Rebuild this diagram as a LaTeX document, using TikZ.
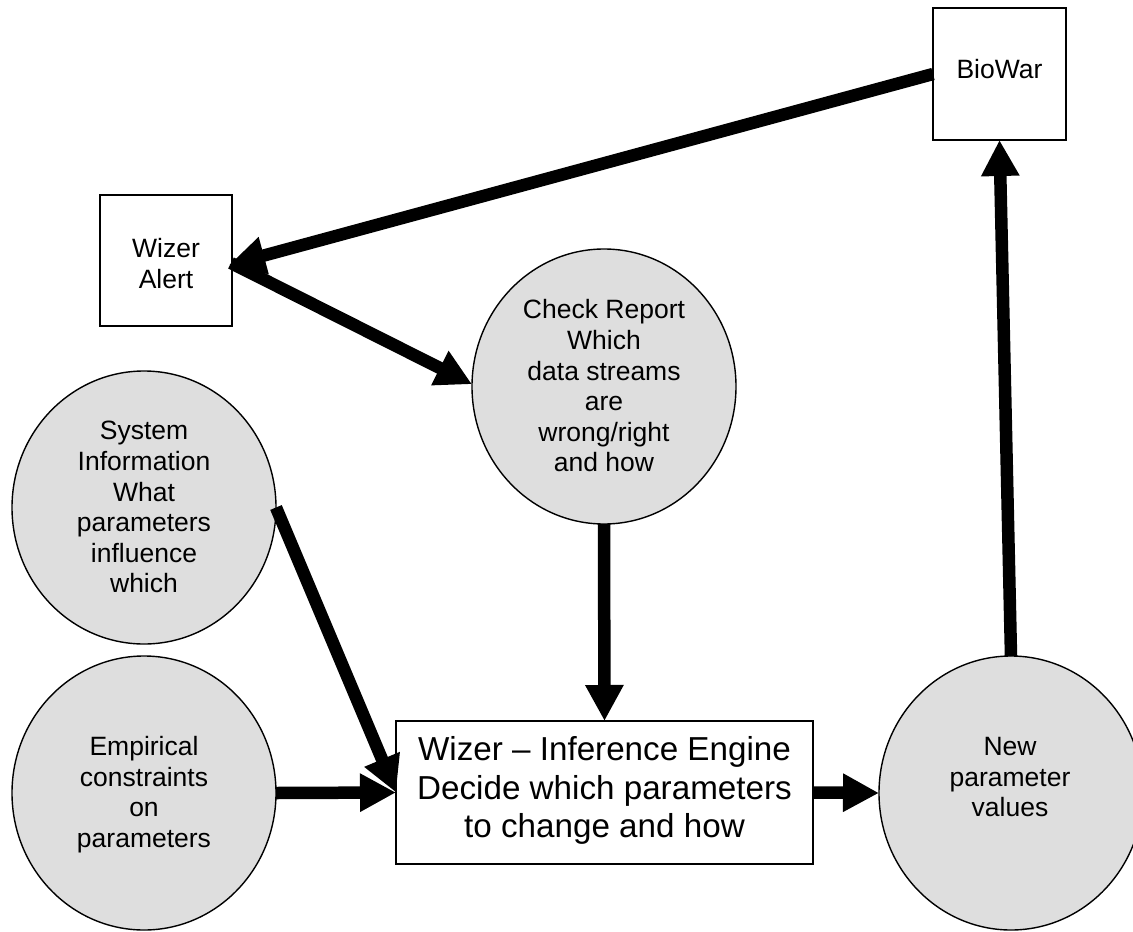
\documentclass[tikz,border=0pt]{standalone}
\usepackage{fontspec}
\setmainfont{Liberation Sans}
\usetikzlibrary{calc,arrows.meta,shapes.geometric}
\newcommand{\nudged}[2]{\raisebox{#1}[0pt][0pt]{\makebox[0pt]{\begin{tabular}[c]{@{}c@{}}#2\end{tabular}}}}
\tikzset{
  circnode/.style={ellipse,draw=black,line width=1.4pt,fill=black!13,inner sep=0pt,outer sep=0pt,
    minimum width=264pt,minimum height=274pt,font=\fontsize{26.5}{30.6}\selectfont},
  boxnode/.style={rectangle,draw=black,line width=1.6pt,fill=white,inner sep=0pt,outer sep=0pt,
    font=\fontsize{26.5}{30.6}\selectfont},
  bigbox/.style={boxnode,minimum width=417pt,minimum height=143pt,font=\fontsize{33.2}{38.5}\selectfont},
  smallbox/.style={boxnode,minimum width=133pt,minimum height=132pt},
  conn/.style={line width=12.5pt,black,-{Triangle[length=36pt,width=36pt]}}
}
\begin{document}
\begin{tikzpicture}[x=1pt,y=-1pt]
\useasboundingbox (0,0) rectangle (1133,932);
\fill[white] (0,0) rectangle (1133,932);
\node[smallbox] (bw) at (999.5,74) {\nudged{-4.4pt}{BioWar}};
\node[smallbox,minimum width=132pt,minimum height=131pt] (wa) at (166,260.5) {\nudged{-12.4pt}{Wizer\\Alert}};
\node[circnode,minimum height=275pt] (cr) at (604,386.5) {\nudged{-8.9pt}{Check Report\\Which\\data streams\\are\\wrong/right\\and how}};
\node[circnode,minimum height=273pt] (si) at (144,507.5) {\nudged{-8.9pt}{System\\Information\\What\\parameters\\influence\\which}};
\node[circnode] (ec) at (144,793) {\nudged{-8.4pt}{Empirical\\constraints\\on\\parameters}};
\node[circnode] (np) at (1011,793) {\hspace*{-2pt}\nudged{6.6pt}{New\\parameter\\values}};
\node[bigbox] (ie) at (604.5,792.5) {\nudged{-5.4pt}{Wizer – Inference Engine\\Decide which parameters\\to change and how}};
\coordinate (wt) at ($(wa.east)+(-3,4.5)$);
\coordinate (ws) at ($(wa.east)+(-1,2.5)$);
\draw[conn] (bw.west) -- (wt);
\draw[conn] (ws) -- (cr.179);
\draw[conn] (cr.south) -- (ie.north);
\draw[conn] (si.east) -- (ie.west);
\draw[conn] (ec.east) -- (ie.west);
\draw[conn] (ie.east) -- (np.west);
\draw[conn] (np.north) -- (bw.south);
\end{tikzpicture}
\end{document}
